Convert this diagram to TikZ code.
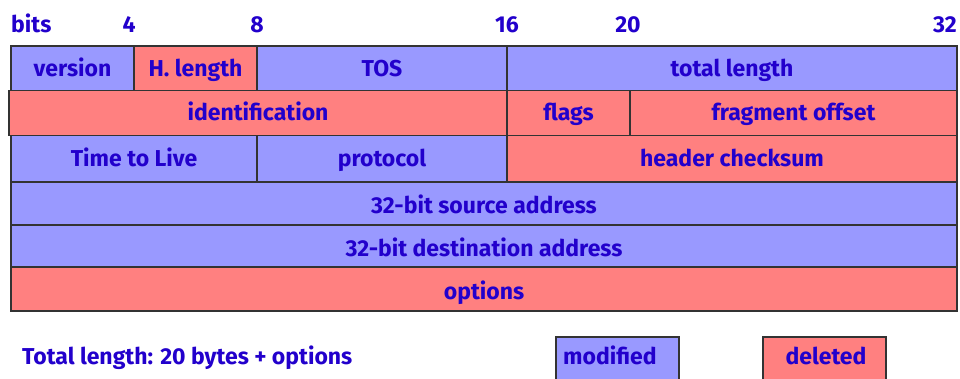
\documentclass[tikz,border=0pt]{standalone}
\usepackage{fontspec}
\setmainfont{Fira Sans}
\definecolor{blu}{HTML}{9999FF}
\definecolor{rd}{HTML}{FF8080}
\definecolor{ink}{HTML}{2200CC}
\definecolor{edge}{HTML}{333333}
\tikzset{
  txt/.style={font=\bfseries\fontsize{23}{23}\selectfont, text=ink,
    inner sep=0pt, text height=15.9pt, text depth=0pt},
  field/.style={txt, draw=edge, line width=1.2pt, outer sep=0pt,
    minimum height=44.5pt, anchor=north west},
  mod/.style={field, fill=blu},
  del/.style={field, fill=rd},
  low/.style={text height=20.5pt},
}
\begin{document}
\begin{tikzpicture}[x=1pt,y=-1pt]
\clip (0,0) rectangle (960,378);
\fill[white] (0,0) rectangle (960,378);

% bit positions
\node[txt, anchor=west] (bits) at (11,25) {bits};
\node[txt] (b4) at (129,25) {4};
\node[txt] (b8) at (257,25) {8};
\node[txt] (b16) at (507,25) {16};
\node[txt] (b20) at (628,25) {20};
\node[txt, anchor=east] (b32) at (957,25) {32};

% row 1
\node[mod, minimum width=123pt] (ver) at (11,46) {version};
\node[del, minimum width=123pt] (hlen) at (134,46) {H. length};
\node[mod, minimum width=250pt] (tos) at (257,46) {TOS};
\node[mod, minimum width=450pt] (tlen) at (507,46) {total length};

% row 2
\node[del, minimum width=498pt, minimum height=45pt] (ident) at (9,90.5) {identification};
\node[del, minimum width=123pt, minimum height=45pt] (flags) at (507,90.5) {flags};
\node[del, minimum width=327pt, minimum height=45pt] (frag) at (630,90.5) {fragment offset};

% row 3
\node[mod, minimum width=246pt, minimum height=46.5pt] (ttl) at (11,135.5) {Time to Live};
\node[mod, minimum width=250pt, minimum height=46.5pt] (proto) at (257,135.5) {protocol};
\node[del, minimum width=450pt, minimum height=46.5pt] (csum) at (507,135.5) {header checksum};

% rows 4-6
\node[mod, low, minimum width=946pt, minimum height=43pt] (src) at (11,182) {32-bit source address};
\node[mod, low, minimum width=946pt, minimum height=42pt] (dst) at (11,225) {32-bit destination address};
\node[del, low, minimum width=946pt, minimum height=44pt] (opt) at (11,267) {options};

% note and legend
\node[txt, anchor=west] (note) at (22,357) {Total length: 20 bytes + options};
\node[field, fill=blu, minimum width=123pt, minimum height=60pt] (modbox) at (556,337) {};
\node[txt, anchor=west] (modtxt) at (563,357) {modified};
\node[field, fill=rd, minimum width=123pt, minimum height=60pt] (delbox) at (763,337) {};
\node[txt] (deltxt) at (826,357) {deleted};
\end{tikzpicture}
\end{document}
